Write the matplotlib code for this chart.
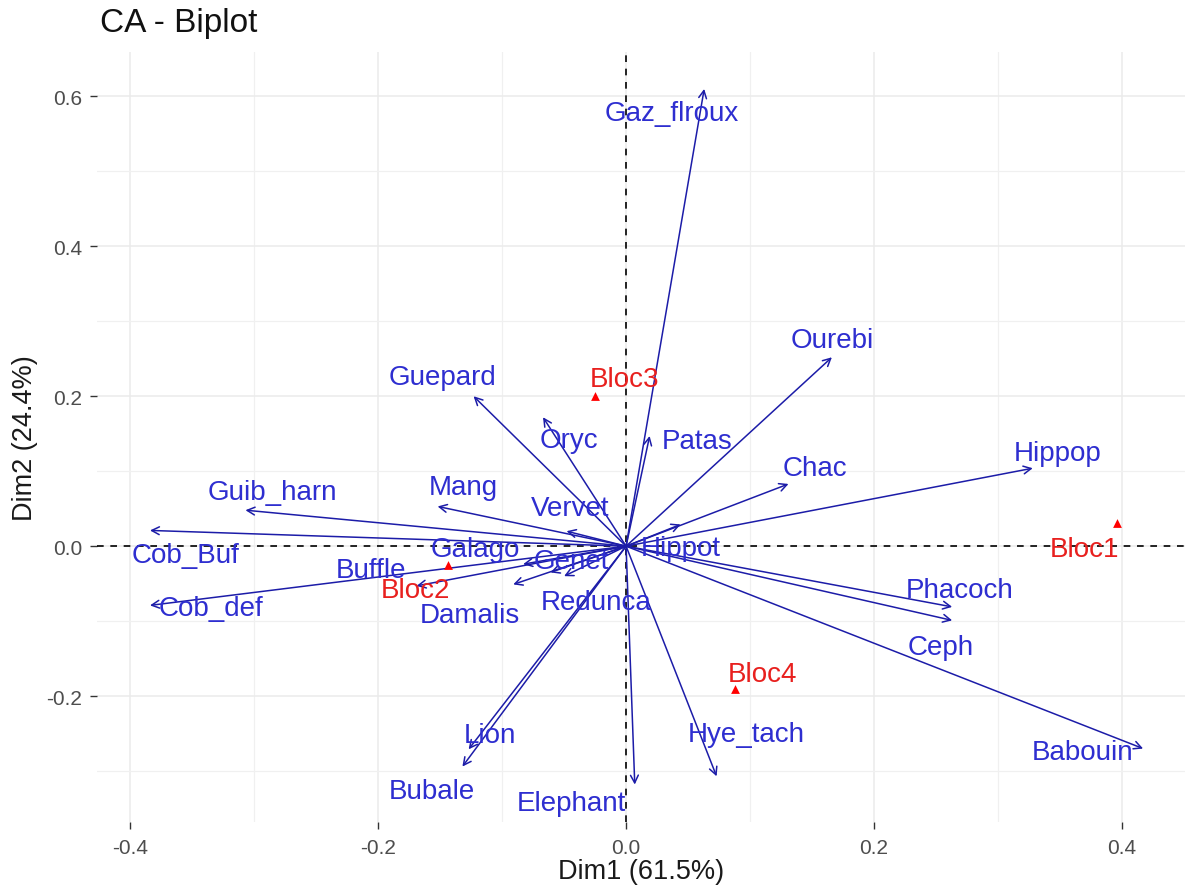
import matplotlib.pyplot as plt
import numpy as np

# column coordinates (species) - arrow tips
col_names = ['Gaz_flroux', 'Ourebi', 'Patas', 'Chac', 'Hippop', 'Hippot', 'Guepard',
             'Oryc', 'Mang', 'Vervet', 'Guib_harn', 'Cob_Buf', 'Galago', 'Genet',
             'Buffle', 'Cob_def', 'Damalis', 'Redunca', 'Phacoch', 'Ceph', 'Babouin',
             'Hye_tach', 'Elephant', 'Lion', 'Bubale']
col_x = [0.063, 0.166, 0.019, 0.131, 0.328, 0.044, -0.123,
         -0.067, -0.152, -0.048, -0.307, -0.384, -0.083, -0.061,
         -0.169, -0.384, -0.091, -0.050, 0.263, 0.263, 0.417,
         0.073, 0.007, -0.127, -0.132]
col_y = [0.610, 0.252, 0.147, 0.083, 0.104, 0.029, 0.200,
         0.172, 0.053, 0.020, 0.048, 0.021, -0.024, -0.035,
         -0.053, -0.079, -0.051, -0.040, -0.081, -0.099, -0.270,
         -0.307, -0.318, -0.271, -0.294]
# where the (repelled) labels ended up
col_lab_x = [0.037, 0.166, 0.057, 0.152, 0.348, 0.044, -0.148,
             -0.046, -0.131, -0.045, -0.285, -0.355, -0.122, -0.044,
             -0.206, -0.335, -0.126, -0.024, 0.269, 0.254, 0.368,
             0.097, -0.044, -0.110, -0.157]
col_lab_y = [0.578, 0.275, 0.140, 0.104, 0.124, -0.003, 0.226,
             0.142, 0.079, 0.051, 0.072, -0.012, -0.004, -0.020,
             -0.032, -0.083, -0.092, -0.075, -0.059, -0.134, -0.274,
             -0.250, -0.343, -0.252, -0.327]

# row coordinates (blocs)
row_names = ['Bloc1', 'Bloc2', 'Bloc3', 'Bloc4']
row_x = [0.396, -0.144, -0.025, 0.088]
row_y = [0.031, -0.025, 0.200, -0.191]
row_lab_x = [0.370, -0.170, -0.001, 0.110]
row_lab_y = [-0.004, -0.059, 0.223, -0.171]

blue_txt = '#2E2ED0'
blue_arr = '#1C1CA8'

plt.rcParams['font.family'] = ['Liberation Sans', 'DejaVu Sans']

fig = plt.figure(figsize=(11.85, 8.95), dpi=100)
ax = fig.add_axes([0.082, 0.080, 0.918, 0.861])

ax.set_xlim(-0.4266, 0.4508)
ax.set_ylim(-0.3685, 0.6595)

ax.set_xticks([-0.4, -0.2, 0.0, 0.2, 0.4])
ax.set_yticks([-0.2, 0.0, 0.2, 0.4, 0.6])
ax.set_xticks([-0.3, -0.1, 0.1, 0.3], minor=True)
ax.set_yticks([-0.3, -0.1, 0.1, 0.3, 0.5], minor=True)
ax.grid(which='major', color='#EBEBEB', lw=1.1, zorder=0)
ax.grid(which='minor', color='#F0F0F0', lw=0.9, zorder=0)
ax.set_axisbelow(True)
for s in ax.spines.values():
    s.set_visible(False)
ax.tick_params(which='major', length=5, width=1, color='#333333',
               labelsize=15, labelcolor='#4D4D4D', pad=6)
ax.tick_params(which='minor', length=0)
ax.set_xticklabels(['-0.4', '-0.2', '0.0', '0.2', '0.4'])
ax.set_yticklabels(['-0.2', '0.0', '0.2', '0.4', '0.6'])

ax.axhline(0, color='black', ls=(0, (4, 4)), lw=1.2, zorder=1)
ax.axvline(0, color='black', ls=(0, (4, 4)), lw=1.2, zorder=1)

for x, y in zip(col_x, col_y):
    ax.annotate('', xy=(x, y), xytext=(0, 0),
                arrowprops=dict(arrowstyle='->,head_length=0.55,head_width=0.28',
                                color=blue_arr, lw=1.1, shrinkA=0, shrinkB=0),
                zorder=2)
for name, lx, ly in zip(col_names, col_lab_x, col_lab_y):
    ax.text(lx, ly, name, color=blue_txt, fontsize=20, ha='center', va='center', zorder=3)

ax.scatter(row_x, row_y, marker='^', s=40, color='red', zorder=4, linewidths=0)
for name, lx, ly in zip(row_names, row_lab_x, row_lab_y):
    ax.text(lx, ly, name, color='#E8201E', fontsize=20, ha='center', va='center', zorder=4)

ax.set_xlabel('Dim1 (61.5%)', fontsize=19.5, color='#1A1A1A', labelpad=1)
ax.set_ylabel('Dim2 (24.4%)', fontsize=19.5, color='#1A1A1A', labelpad=6)
fig.text(0.084, 0.974, 'CA - Biplot', fontsize=24, ha='left', va='center', color='#111111')

fig.savefig('out.png', dpi=100)
